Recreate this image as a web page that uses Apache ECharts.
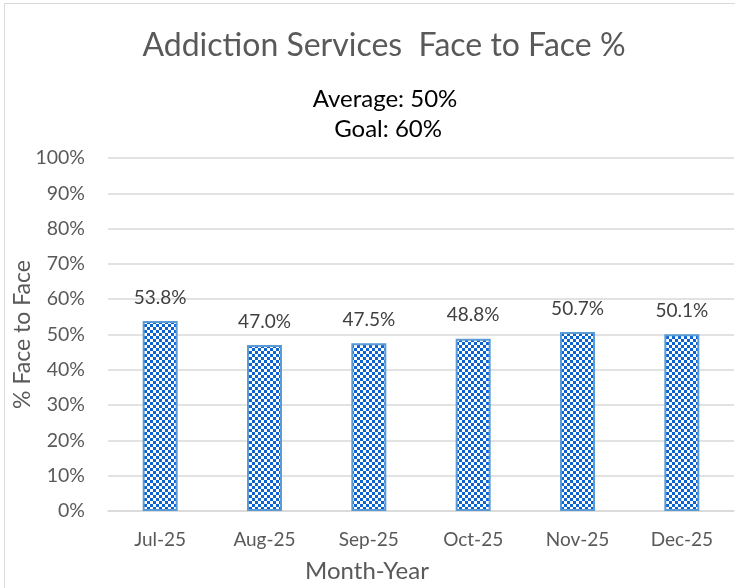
<!DOCTYPE html>
<html>
<head>
<meta charset="utf-8">
<script src="https://cdn.jsdelivr.net/npm/echarts@6/dist/echarts.min.js"></script>
<style>
  html, body { margin: 0; padding: 0; background: #fff; }
  #frame { position: absolute; left: 4px; top: 3px; width: 760px; height: 620px; border: 1px solid #d9d9d9; }
  #chart { position: absolute; left: 0; top: 0; width: 735px; height: 588px; }
</style>
</head>
<body>
<div id="frame"></div>
<div id="chart"></div>
<script>
// data
const months = ['Jul-25', 'Aug-25', 'Sep-25', 'Oct-25', 'Nov-25', 'Dec-25']
const faceToFace = [53.8, 47.0, 47.5, 48.8, 50.7, 50.1]
const subtitleLines = ['Average: 50%', ' Goal: 60%']

// checkerboard fill for the bars
function checker() {
  let c = document.createElement('canvas')
  c.width = 6
  c.height = 6
  let ctx = c.getContext('2d')
  ctx.fillStyle = '#ffffff'
  ctx.fillRect(0, 0, 6, 6)
  ctx.fillStyle = '#0b63d1'
  ctx.fillRect(0, 0, 3, 3)
  ctx.fillRect(3, 3, 3, 3)
  return c
}

const font = 'Lato, "Open Sans", sans-serif'
let myChart = echarts.init(document.getElementById('chart'))
let option = {
  animation: false,
  title: [
    {
      text: 'Addiction Services  Face to Face %',
      left: 379,
      top: 25,
      textAlign: 'center',
      textStyle: { fontFamily: font, fontSize: 32, fontWeight: 'normal', color: '#595959' },
    },
    {
      text: subtitleLines.join('\n'),
      left: 380,
      top: 79,
      textAlign: 'center',
      textStyle: { fontFamily: font, fontSize: 24, fontWeight: 'normal', color: '#000', lineHeight: 30 },
    },
  ],
  graphic: [
    {
      type: 'text',
      x: 367,
      y: 571,
      style: {
        text: 'Month-Year',
        fontFamily: font,
        fontSize: 24,
        fill: '#595959',
        align: 'center',
        verticalAlign: 'middle',
        textAlign: 'center',
        textVerticalAlign: 'middle',
      },
    },
  ],
  grid: { left: 108, right: 1, top: 158, bottom: 77, containLabel: false, outerBoundsMode: 'none' },
  xAxis: {
    type: 'category',
    data: months,
    axisTick: { show: false },
    axisLine: { lineStyle: { color: '#d9d9d9', width: 1.5 } },
    axisLabel: { fontFamily: font, fontSize: 19, color: '#595959', margin: 19 },
  },
  yAxis: {
    type: 'value',
    min: 0,
    max: 100,
    interval: 10,
    name: '% Face to Face',
    nameLocation: 'middle',
    nameGap: 74,
    nameMoveOverlap: false,
    nameTextStyle: { fontFamily: font, fontSize: 23, color: '#595959' },
    axisLabel: { fontFamily: font, fontSize: 19.5, color: '#595959', margin: 23, formatter: '{value}%' },
    splitLine: { lineStyle: { color: '#d9d9d9', width: 1.5 } },
  },
  series: [
    {
      type: 'bar',
      data: faceToFace,
      barWidth: 35,
      itemStyle: {
        color: { image: checker(), repeat: 'repeat' },
        borderColor: '#5b9bd5',
        borderWidth: 2,
      },
      label: {
        show: true,
        position: 'top',
        distance: 14,
        fontFamily: font,
        fontSize: 19,
        color: '#404040',
        formatter: (p) => p.value.toFixed(1) + '%',
      },
    },
  ],
}
myChart.setOption(option)
</script>
</body>
</html>
